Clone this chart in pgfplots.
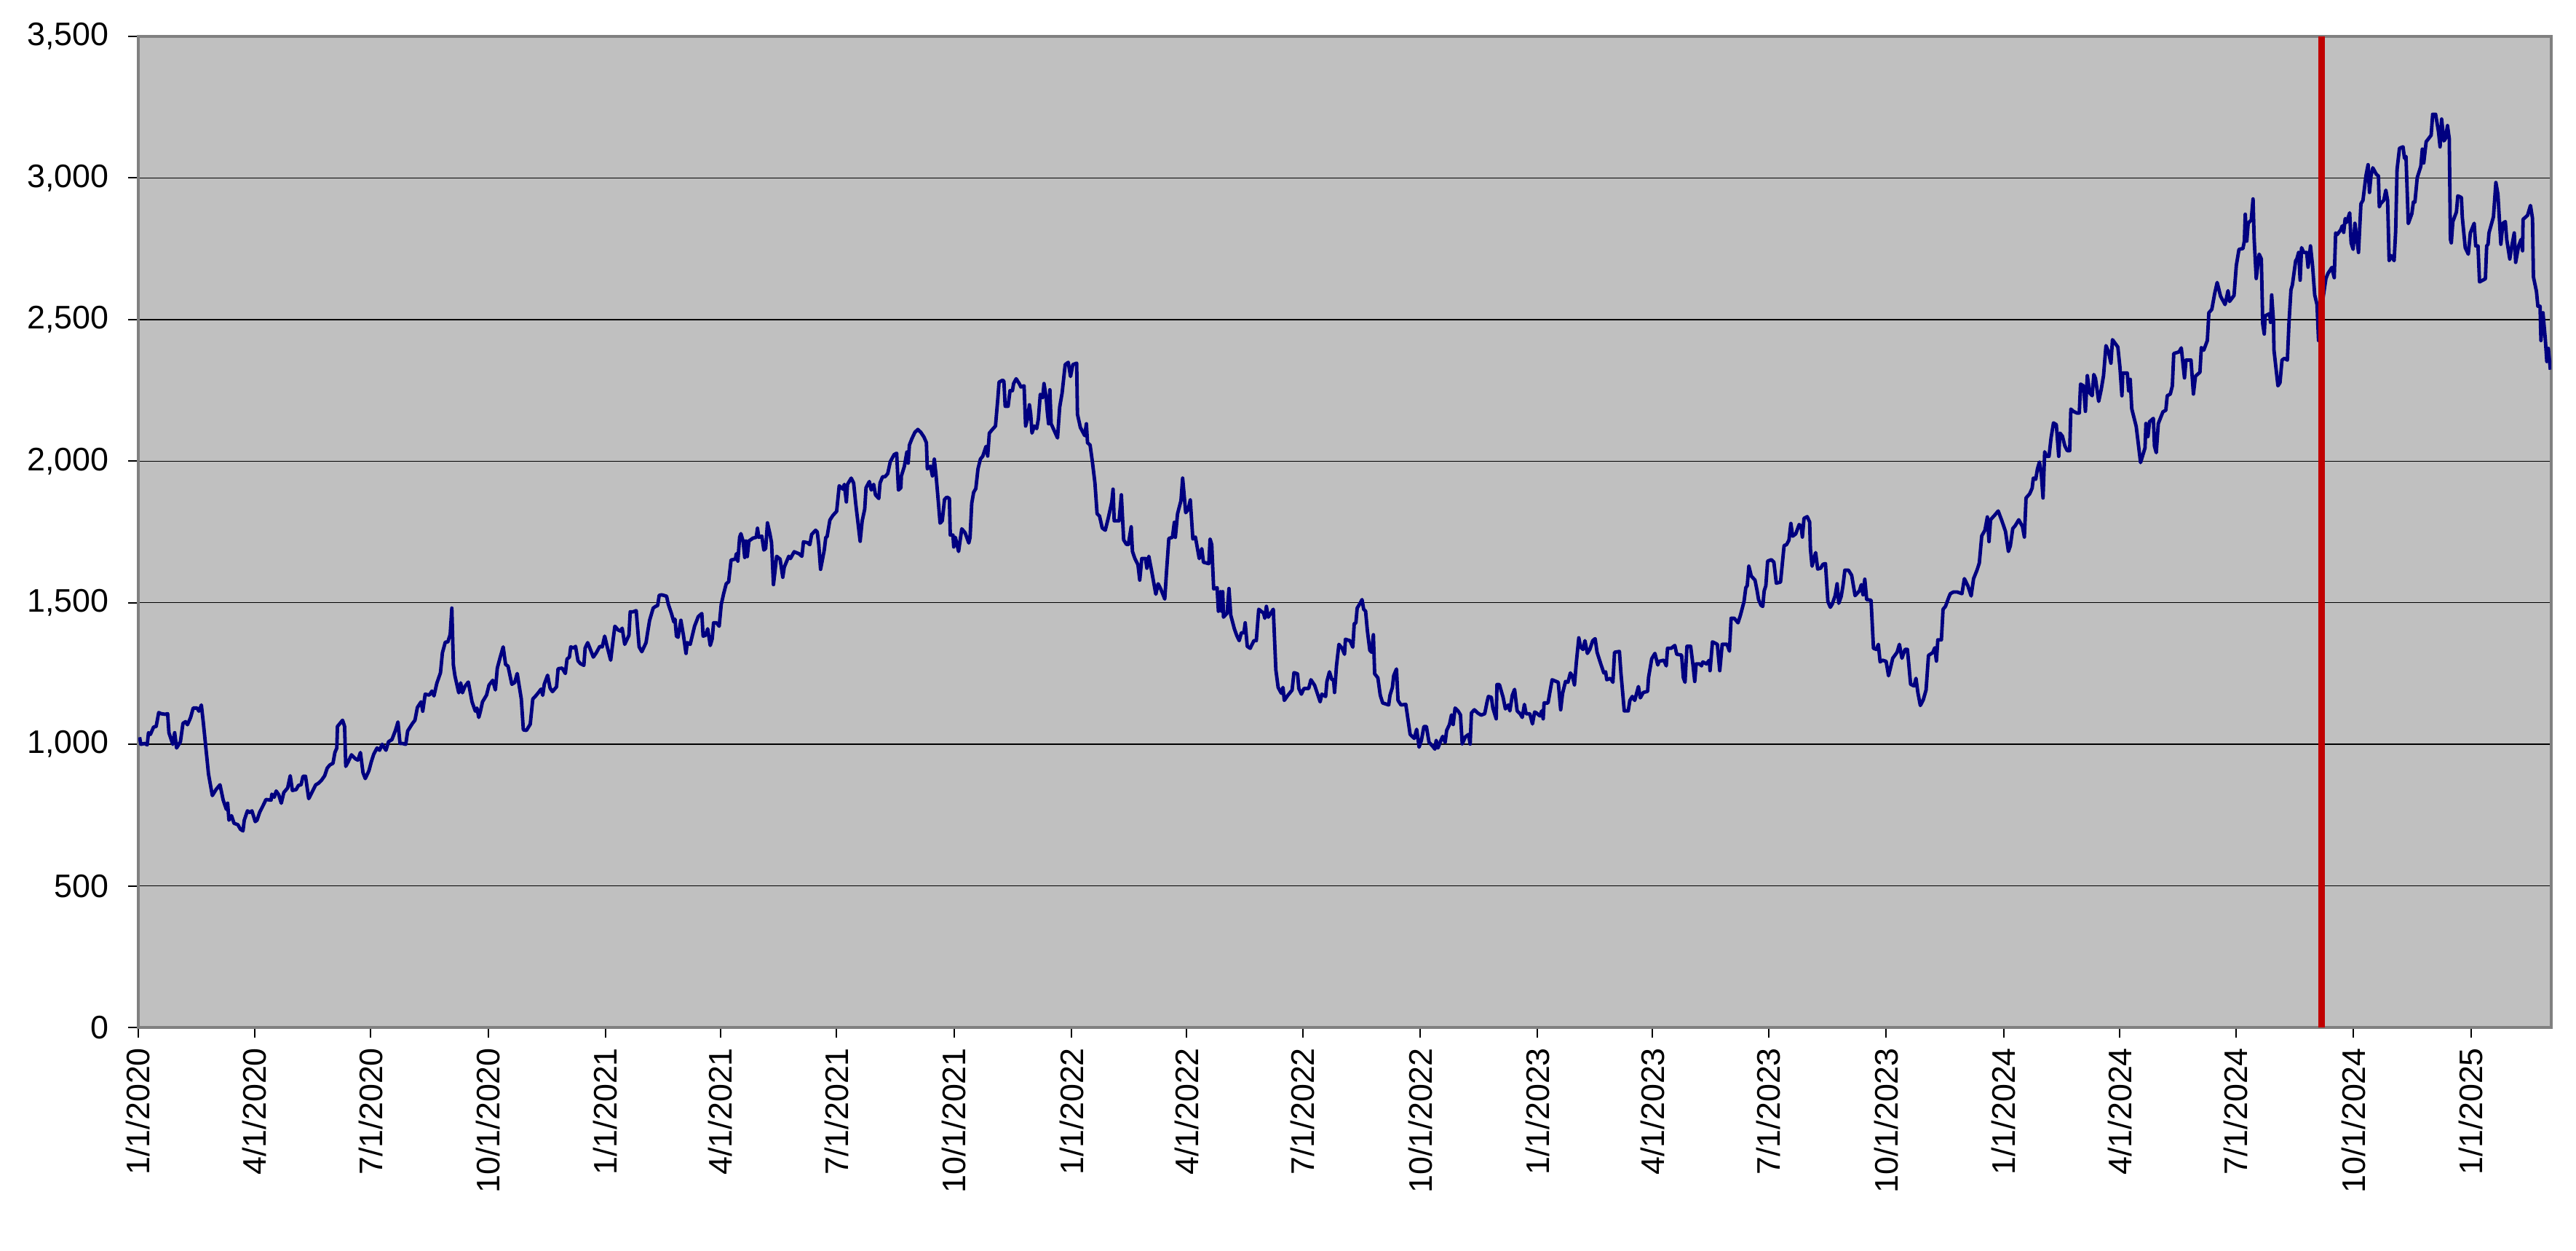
\documentclass[border=0pt]{standalone}
\usepackage{fontspec}
\setmainfont{Liberation Sans}
\usepackage{pgfplots}
\pgfplotsset{compat=1.18}
\definecolor{plotgray}{RGB}{192,192,192}
\definecolor{framegray}{RGB}{128,128,128}
\definecolor{navyline}{RGB}{0,0,128}
\definecolor{redline}{RGB}{192,0,0}
\begin{document}
\begin{tikzpicture}
\begin{axis}[
  scale only axis,
  width=828.75pt, height=340.25pt,
  xmin=0, xmax=1890, ymin=0, ymax=3500,
  axis background/.style={fill=plotgray},
  xtick={0,91,182,274,366,456,547,639,731,821,912,1004,1096,1186,1277,1369,1461,1552,1643,1735,1827},
  xticklabels={1/1/2020,4/1/2020,7/1/2020,10/1/2020,1/1/2021,4/1/2021,7/1/2021,10/1/2021,1/1/2022,4/1/2022,7/1/2022,10/1/2022,1/1/2023,4/1/2023,7/1/2023,10/1/2023,1/1/2024,4/1/2024,7/1/2024,10/1/2024,1/1/2025},
  ytick={0,500,1000,1500,2000,2500,3000,3500},
  ymajorgrids,
  grid style={black, line width=0.35pt},
  tick align=outside,
  major tick length=3.5pt,
  tick style={black, line width=0.5pt},
  xtick pos=lower, ytick pos=left,
  axis line style={framegray, line width=0.9pt},
  ticklabel style={font=\fontsize{11.2}{13}\selectfont},
  xticklabel style={rotate=90, anchor=east},
  yticklabel shift=3.1pt,
  /pgf/number format/assume math mode=true,
  yticklabel style={/pgf/number format/1000 sep={,}},
]
\addplot[navyline, line width=1.2pt, line join=round] coordinates {
(1,1025)(2,1000)(5,1003)(7,998)(8,1041)(9.5,1035)(12,1061)(14,1063)(16,1112)(18,1108)(21,1106)(23,1108)(24,1041)(27,1000)(28.5,1041)(30,987)(33,1009)(35,1074)(37,1080)(38.5,1069)(41,1095)(43,1128)(46,1128)(47.5,1117)(49.4,1139)(51,1074)(55,895)(58,819)(61,841)(64,857)(66.5,803)(69,770)(70,792)(71,732)(73,748)(75,721)(78,716)(80,700)(82,694)(83,732)(85.5,765)(87.5,759)(89,765)(91.6,727)(93,732)(95,759)(98,786)(100,805)(104,803)(104.6,824)(106.5,813)(108,835)(110,822)(112,792)(114,830)(117,846)(119,889)(120.7,837)(123.6,840)(125.5,855)(127.5,857)(129,887)(131,887)(133.5,808)(136,830)(139,857)(141,862)(143.5,873)(146,889)(148,916)(150,927)(152.5,933)(154,971)(155.5,987)(156,1063)(158,1074)(160,1085)(161.6,1063)(162.5,922)(164.4,938)(167,963)(170,949)(172,944)(174,971)(176,900)(177.8,879)(180.6,906)(182.5,938)(184.4,965)(187,987)(189,979)(191,1000)(194,979)(196,1009)(198.7,1017)(201.5,1050)(203.4,1079)(205,1003)(207,1003)(209.5,1000)(211,1047)(214.8,1074)(216.7,1085)(218.6,1130)(221.5,1150)(222.8,1117)(224.7,1177)(228,1174)(230,1188)(231.6,1171)(233.8,1215)(236.7,1253)(238.2,1323)(240.5,1361)(242.4,1361)(244.3,1388)(245.6,1481)(246.8,1280)(248,1242)(251,1182)(252.5,1217)(253.9,1182)(255.8,1204)(258.5,1220)(261.4,1150)(264,1117)(265.2,1128)(266.7,1095)(268,1117)(269.6,1150)(272.8,1174)(274.7,1209)(277.6,1226)
(279.7,1192)(281.2,1269)(283.5,1308)(285.8,1344)(287.7,1282)(289.6,1276)(292.6,1212)(294.8,1218)(296.8,1250)(300,1160)(301.6,1051)(304,1049)(307,1071)(309,1160)(311.7,1173)(314,1186)(315.5,1195)(316.8,1173)(318,1212)(320.6,1244)(322.5,1199)(324.4,1186)(327.6,1203)(328.8,1267)(332,1269)(334.5,1250)(335.8,1301)(337.7,1308)(338.7,1344)(341.2,1340)(342.5,1346)(344.4,1295)(346.3,1285)(349,1279)(350,1340)(352,1359)(354,1336)(356.4,1308)(358.7,1323)(361.5,1346)(363.4,1344)(365.3,1382)(367.2,1346)(370,1297)(372,1372)(373.3,1417)(375.8,1404)(377.7,1400)(379,1410)(381,1353)(384.3,1385)(385.3,1468)(387.6,1468)(390,1472)(392.3,1344)(394.4,1327)(397.7,1359)(399,1397)(400.5,1438)(403.3,1481)(405.2,1487)(406.8,1490)(408,1526)(410,1528)(413.8,1523)(415,1497)(417.6,1462)(419.5,1432)(420.4,1442)(421.5,1382)(422.8,1378)(425,1438)(427,1385)(429,1321)(430,1359)(432.3,1353)(435.7,1417)(438.6,1451)(441.4,1462)(442.4,1382)(444.3,1385)(446,1408)(448,1349)(449.5,1372)(450.6,1429)(452.9,1429)(455,1417)(456.6,1494)(458.5,1532)(460.5,1567)(462.4,1574)(464.3,1651)(467.7,1654)(468.4,1673)(469.6,1647)(471,1731)(472,1744)(473.7,1718)(475,1660)(476,1718)(477,1663)(478.3,1718)(481.4,1728)(484,1731)(485,1763)(486,1731)(488.4,1735)(490,1686)(491.4,1692)(492.8,1782)(494.7,1744)(496,1712)(497.5,1564)(498.5,1603)(500,1664)(502.7,1654)(504.8,1590)(506,1626)(509.5,1664)(510.8,1656)(513.7,1680)(517.5,1673)(519.8,1664)(521,1715)(524.2,1712)(526,1705)(527.4,1741)(530.5,1756)(531.8,1750)(533,1705)(534.4,1618)(537.3,1686)(538.5,1731)(539.5,1733)(541.7,1792)(544,1808)(547,1823)(549,1913)(552,1901)
(553,1918)(554.6,1856)(555.5,1918)(558.4,1940)(560.3,1923)(562,1848)(565.4,1717)(567,1789)(569,1831)(570,1906)(572.6,1928)(574.1,1898)(576,1918)(577.4,1881)(580,1868)(581,1923)(583,1945)(584.9,1945)(587,1956)(589,1998)(592,2023)(594,2028)(595.4,1898)(597.3,1906)(597.7,1948)(600,1981)(602,2032)(603,1993)(604,2057)(605.9,2079)(608.3,2102)(610.6,2112)(612.9,2102)(615.4,2085)(617.3,2065)(618,1973)(620.5,1982)(622,1948)(623.5,2007)(624.9,1948)(626.8,1848)(628,1781)(629.7,1789)(631.5,1865)(633.4,1873)(635.3,1868)(636,1739)(638.1,1739)(638.7,1697)(640,1731)(642.5,1681)(645,1761)(647.6,1747)(650.5,1711)(651.5,1731)(652.8,1851)(654.3,1890)(656,1903)(657.7,1973)(659.6,2007)(661.5,2018)(664,2052)(665.3,2018)(666.6,2099)(669,2112)(671.4,2124)(673.3,2224)(674.2,2279)(677,2286)(678,2282)(679,2194)(681.3,2194)(682.8,2249)(684.7,2249)(685.6,2274)(687.6,2291)(690,2274)(691.3,2262)(693.8,2266)(695,2124)(696.5,2149)(698,2199)(699,2166)(700,2099)(701.8,2124)(703.7,2115)(705,2149)(706.5,2236)(708.4,2224)(709.4,2274)(711,2229)(712,2174)(713,2132)(714,2252)(715,2132)(717,2112)(720,2082)(721.7,2191)(723.6,2241)(726,2341)(728.4,2349)(730.2,2299)(732,2341)(735,2346)(735.6,2166)(737.9,2119)(741.3,2090)(742.6,2132)(743.5,2065)(745.5,2057)(747.3,1998)(749.3,1923)(751,1814)(752.9,1806)(755,1764)(757.4,1756)(759.7,1798)(762.5,1856)(763.5,1901)(764.4,1789)(766.3,1789)(768.2,1789)(770,1881)(771.8,1722)(774,1706)(775.5,1706)(777.7,1768)(778.7,1681)(780.6,1656)(783,1634)(784.4,1580)(786,1656)(788.9,1656)(790,1622)(791.5,1664)(794,1605)(797,1530)(798.8,1567)(801,1547)(804,1513)(805.3,1605)(807.2,1727)(810,1731)(811.5,1784)(812.3,1731)(814,1814)(816.7,1861)(818,1940)
(820.4,1818)(822.3,1829)(824,1863)(826,1725)(828,1732)(831,1656)(833,1691)(834.3,1643)(838.5,1638)(839.5,1725)(840.8,1705)(842.3,1549)(845,1553)(846,1470)(847.7,1539)(848.5,1470)(849.4,1539)(850,1449)(852.8,1463)(854.3,1550)(855.7,1456)(858.5,1408)(860.4,1384)(862.3,1366)(864,1394)(866,1394)(867,1429)(868.6,1346)(870.9,1339)(873.8,1366)(875.7,1366)(877.6,1477)(881.4,1463)(882.4,1445)(883.6,1487)(885.1,1449)(889,1477)(891,1263)(892.8,1201)(895.3,1180)(896.6,1201)(897.6,1155)(900.4,1173)(903.7,1191)(905.2,1253)(908,1249)(909,1197)(911,1177)(913,1197)(916.7,1197)(918.5,1228)(921.4,1208)(924,1173)(925.7,1150)(927,1177)(930,1169)(931,1222)(933,1256)(934.9,1228)(936.2,1228)(937,1183)(938.5,1277)(940.4,1353)(942.9,1339)(944.8,1318)(945.5,1371)(949,1366)(951.3,1343)(952.4,1426)(953.7,1429)(954.7,1481)(957,1498)(958.5,1511)(959.8,1477)(961.3,1470)(962.7,1401)(964.6,1332)(966,1325)(967.4,1387)(968.4,1249)(970.9,1235)(972.8,1173)(974.7,1146)(979.4,1139)(980.4,1173)(982.3,1201)(983.3,1242)(985.5,1266)(986.7,1155)(989,1139)(992.8,1141)(996.2,1035)(999.4,1021)(1001.3,1053)(1003.2,990)(1005,1014)(1007,1063)(1008.9,1063)(1011,1007)(1013.7,994)(1015.6,983)(1016.6,1014)(1018,987)(1020.3,1014)(1021.7,1028)(1023.6,1007)(1024.8,1049)(1027,1070)(1028.6,1104)(1029.9,1070)(1031.4,1128)(1033.7,1118)(1035.6,1104)(1037,1001)(1039.4,1026)(1041.9,1035)(1043.2,1001)(1044.2,1111)(1046.5,1122)(1049,1111)(1051.8,1103)(1054.6,1108)(1056.6,1153)(1057.5,1169)(1059.8,1166)(1061,1128)(1063.6,1090)(1064.2,1211)(1066.1,1211)(1069,1166)(1070.8,1125)(1073.1,1139)(1074.3,1118)(1076.2,1173)(1078,1194)(1080,1118)(1082.3,1108)(1084,1095)(1085.7,1141)(1087,1108)(1089.9,1108)(1092,1072)(1093.7,1114)(1095,1111)
(1097.9,1100)(1099.2,1118)(1100.4,1090)(1101.1,1146)(1104.2,1146)(1105.5,1180)(1107.4,1228)(1112.2,1219)(1114.1,1122)(1115.6,1180)(1117.9,1222)(1119.8,1219)(1121.7,1252)(1123.2,1242)(1124.9,1210)(1126.4,1291)(1128.3,1376)(1129.7,1343)(1131.6,1335)(1133.1,1366)(1135,1321)(1136.9,1335)(1139.2,1366)(1141.1,1373)(1142.6,1325)(1145.5,1284)(1147.9,1252)(1149.3,1256)(1150.2,1228)(1153.1,1233)(1155,1219)(1156.3,1325)(1160.1,1328)(1161.3,1252)(1163.9,1118)(1167,1118)(1168.3,1155)(1170.2,1169)(1172.1,1155)(1175,1204)(1176.5,1164)(1178.8,1183)(1182.2,1187)(1182.9,1235)(1185.4,1302)(1187.9,1321)(1190.2,1280)(1191.1,1293)(1194.9,1297)(1196.8,1277)(1197.8,1339)(1200.6,1339)(1203.5,1349)(1205,1318)(1208.8,1315)(1210.2,1235)(1211.5,1219)(1213,1346)(1215.9,1346)(1217.8,1277)(1219.1,1222)(1220.2,1284)(1222.9,1284)(1224.4,1277)(1225.4,1291)(1228.2,1284)(1230.5,1297)(1231.1,1260)(1233,1362)(1236.8,1353)(1238.7,1260)(1240.6,1353)(1244.4,1353)(1246.3,1329)(1247.6,1445)(1250.1,1445)(1253,1429)(1254.9,1456)(1257.7,1504)(1259.1,1553)(1260.2,1560)(1261.5,1629)(1263.4,1594)(1266.3,1580)(1267.8,1546)(1269.1,1511)(1271,1491)(1272.4,1487)(1273.5,1542)(1274.8,1560)(1276.2,1647)(1279.2,1652)(1281.1,1643)(1283,1569)(1286.3,1573)(1289.1,1702)(1291,1705)(1292.9,1721)(1294.4,1780)(1295.8,1735)(1298.2,1743)(1300.9,1776)(1302.4,1771)(1303.4,1732)(1304.7,1798)(1307.2,1804)(1309.1,1785)(1309.7,1691)(1311,1629)(1312.3,1652)(1313.8,1677)(1315.4,1619)(1317.7,1622)(1319.6,1636)(1321.5,1638)(1323.4,1504)(1325.3,1484)(1326.8,1495)(1329.1,1525)(1330.6,1567)(1331.9,1498)(1333.8,1522)(1335.2,1560)(1336.7,1615)(1339.5,1615)(1342,1597)(1344.7,1525)(1348.1,1542)(1349.6,1564)(1350.9,1528)(1352.3,1583)(1353.8,1511)(1357.2,1509)(1359.1,1339)(1361.4,1335)(1362.9,1353)(1364.3,1291)(1366.2,1297)(1369,1293)(1370.9,1242)(1372.4,1270)(1374.2,1304)(1377.6,1325)(1379.4,1353)
(1381.4,1304)(1383.8,1335)(1385.7,1335)(1388.2,1212)(1390.9,1206)(1392.4,1233)(1393.9,1182)(1395.8,1137)(1398.1,1157)(1400.3,1192)(1402.2,1314)(1405.6,1324)(1407.1,1341)(1408.4,1294)(1409.5,1369)(1412.3,1369)(1413.6,1477)(1415.5,1487)(1418,1518)(1419.3,1532)(1421.8,1538)(1424.6,1538)(1428.4,1532)(1430.3,1585)(1433.1,1559)(1435.6,1524)(1437.5,1585)(1440.1,1614)(1442,1640)(1443.9,1736)(1446.4,1756)(1448.3,1803)(1449.6,1716)(1450.8,1793)(1454,1809)(1456.8,1824)(1459.7,1789)(1462.5,1752)(1464.8,1681)(1466.3,1701)(1468.2,1762)(1470.1,1772)(1472.9,1793)(1475.8,1769)(1477.3,1732)(1478.6,1870)(1481.5,1885)(1483.4,1905)(1484.3,1940)(1486.2,1936)(1487.5,1972)(1489.1,1997)(1490.6,1952)(1491.9,1870)(1493.2,2033)(1494.7,2017)(1496.6,2017)(1498.2,2082)(1500.1,2135)(1502.3,2129)(1504.2,2017)(1505.2,2099)(1507.1,2088)(1509,2054)(1510.9,2037)(1512.8,2037)(1513.7,2184)(1515.6,2176)(1518.4,2170)(1520.3,2170)(1521.3,2272)(1523.6,2266)(1525.1,2176)(1526.6,2302)(1528.5,2241)(1530.4,2231)(1531.7,2306)(1533,2292)(1535.5,2211)(1537.4,2251)(1539.3,2302)(1541.2,2408)(1543.1,2388)
(1545.1,2346)(1546.3,2429)(1550.5,2403)(1552.1,2334)(1553.7,2231)(1554.4,2311)(1557.9,2311)(1559,2248)(1560.2,2289)(1561.4,2185)(1564.9,2122)(1568.3,1995)(1571.8,2047)(1572.5,2133)(1574.1,2087)(1575.3,2139)(1578.3,2151)(1579.2,2053)(1580.6,2030)(1582.2,2133)(1585.8,2174)(1588.1,2180)(1589.2,2231)(1591.6,2237)(1593.2,2266)(1594.3,2380)(1598.5,2386)(1600.2,2400)(1602.7,2294)(1603.9,2357)(1607.8,2357)(1609.7,2237)(1611.3,2300)(1614.8,2314)(1615.9,2401)(1617.8,2392)(1620.6,2426)(1621.8,2524)(1624.1,2536)(1626.4,2593)(1628.3,2631)(1631,2582)(1634.5,2553)(1636.8,2602)(1638,2564)(1641.5,2585)(1643.3,2691)(1645.4,2748)(1648.5,2751)(1649.6,2777)(1650.3,2872)(1651.5,2777)(1652.6,2840)(1655,2852)(1656.4,2926)(1657.3,2783)(1658.9,2645)(1661.2,2731)(1662.9,2714)(1664,2484)(1665.2,2449)(1665.9,2513)(1669.4,2521)(1670.1,2490)(1671,2587)(1672.4,2495)(1672.8,2392)(1675.9,2266)(1677.5,2277)(1679.1,2357)(1681,2363)(1683.3,2357)(1684.5,2484)(1686.1,2605)(1687.2,2622)(1689.8,2708)(1690.7,2714)(1692.1,2737)(1693.3,2639)(1694.4,2754)(1696.1,2737)(1698.4,2737)(1699.5,2685)(1701.4,2760)(1703,2691)(1704.7,2587)(1706.5,2553)(1707.7,2426)(1709.3,2518)(1713.5,2645)(1715.1,2663)(1718.1,2684)(1720,2648)(1721.1,2806)(1722.3,2800)(1725.1,2817)(1726.3,2831)(1727.4,2808)(1728.6,2857)(1729.7,2843)(1732.1,2877)(1733.2,2771)(1734.8,2748)(1736.2,2840)(1739,2737)(1740.9,2909)(1742.5,2921)(1744.8,3007)(1746.5,3047)(1747.6,2949)(1748.8,3007)(1750.2,3036)(1753,3013)(1754.6,3007)(1755.3,2898)(1756.4,2910)(1758.8,2921)(1760.4,2957)(1761.8,2921)(1763,2708)(1764.6,2726)(1766.9,2708)(1768.1,2811)(1769.2,3030)(1771.1,3105)(1773.9,3110)(1775,3070)(1776.2,3076)(1778,2839)(1780.8,2874)(1782,2915)(1783.2,2915)(1785,3001)(1787.8,3041)(1789,3102)(1790.1,3053)(1792,3128)(1795.9,3151)(1797.1,3225)(1799.4,3225)(1801.7,3162)(1802.9,3110)(1804.1,3208)(1805.9,3131)(1807.1,3139)(1808.7,3185)(1810.1,3139)(1811,2783)(1811.7,2771)(1812.9,2846)(1815.7,2880)(1816.8,2937)(1819.6,2931)(1820.3,2862)(1822.6,2754)(1825,2731)(1826.6,2806)(1829.6,2840)(1830.8,2760)(1832.6,2760)(1833.8,2633)(1838.4,2644)(1839.4,2760)(1840.5,2766)(1841.2,2806)(1844.7,2863)(1846.6,2984)(1848.2,2943)(1850.5,2766)(1852.1,2840)(1854,2846)(1855.1,2783)(1857.5,2714)(1859.1,2760)(1861,2806)(1862.1,2702)(1864.4,2760)(1866.3,2783)(1867.5,2743)(1867.9,2854)(1871.4,2868)(1873.7,2903)(1875.3,2857)(1876,2651)(1878.4,2599)(1879.5,2547)(1881.2,2547)(1881.9,2426)(1883.5,2524)(1885.3,2432)(1886.5,2352)(1887.7,2398)(1889.3,2323)
};
\addplot[redline, line width=2.1pt] coordinates {(1710,0)(1710,3500)};
\path (rel axis cs:-0.057315,-0.224835) coordinate (bbSW);
\path (rel axis cs:1.010256,1.036738) coordinate (bbNE);
\end{axis}
\pgfresetboundingbox
\useasboundingbox (bbSW) rectangle (bbNE);
\end{tikzpicture}
\end{document}
